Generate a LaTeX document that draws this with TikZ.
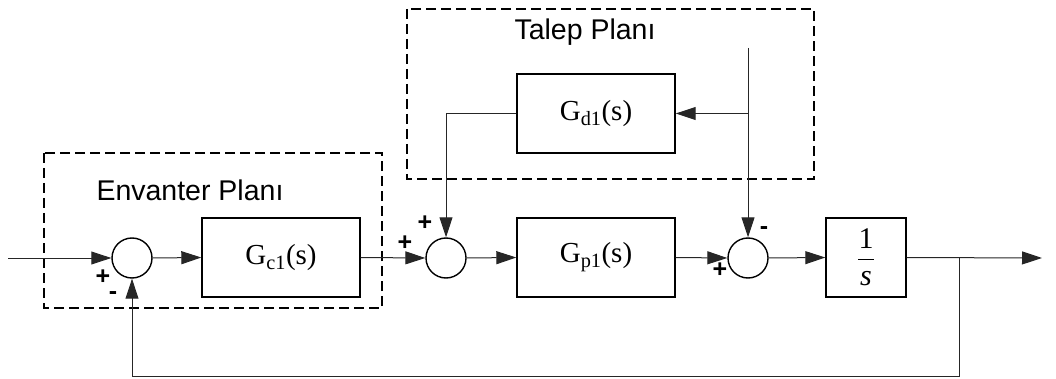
\documentclass[tikz,border=0pt]{standalone}
\usepackage{fontspec}
\setmainfont{Liberation Serif}
\newfontfamily\arial{Liberation Sans}
\usetikzlibrary{arrows.meta}
\begin{document}
\begin{tikzpicture}[x=1pt,y=-1pt,
 blk/.style={draw, line width=1.4pt, minimum width=158pt, minimum height=79pt, inner sep=0pt, font=\fontsize{29}{31}\selectfont},
 sumc/.style={draw, circle, line width=1.4pt, minimum size=40pt, inner sep=0pt},
 sig/.style={line width=1pt, draw=black!85},
 arr/.style={sig, -{Triangle[length=20pt,width=13pt]}},
 grp/.style={draw, line width=1.4pt, dash pattern=on 10pt off 5pt},
 lbl/.style={font=\arial\fontsize{28.5}{30}\selectfont},
 sgn/.style={font=\arial\bfseries\fontsize{25}{25}\selectfont, inner sep=0pt}
]
\useasboundingbox (0,0) rectangle (1056,379);
\draw[grp] (44,153) rectangle (382,308);
\draw[grp] (407,9) rectangle (814,179);
\node[lbl] (el) at (190,190) {Envanter Planı};
\node[lbl] (tl) at (585,32) {Talep Planı};
\node[sumc] (s1) at (132,258) {};
\node[sumc] (s2) at (446,258) {};
\node[sumc] (s3) at (748,258) {};
\node[blk] (gc) at (281,257.5) {G\textsubscript{c1}(s)};
\node[blk] (gp) at (596,257.5) {G\textsubscript{p1}(s)};
\node[blk] (gd) at (596,113.5) {G\textsubscript{d1}(s)};
\node[blk, minimum width=80pt] (int) at (866,257.5) {};
\node[font=\fontsize{30}{32}\selectfont, inner sep=0pt] (one) at (866,239) {1};
\draw[line width=1pt] (858,259) -- (874,259);
\node[font=\fontsize{30}{32}\selectfont\itshape, inner sep=0pt] (ess) at (866,279) {s};
\coordinate (in) at (8,258);
\coordinate (out) at (1042,258);
\coordinate (br) at (959,258);
\coordinate (fb) at (959,376);
\coordinate (dtop) at (748,48);
\coordinate (dbr) at (748,113.5);
\draw[arr] (in) -- (s1.west);
\draw[arr] (s1.east) -- (gc.west);
\draw[arr] (gc.east) -- (s2.west);
\draw[arr] (s2.east) -- (gp.west);
\draw[arr] (gp.east) -- (s3.west);
\draw[arr] (s3.east) -- (int.west);
\draw[arr] (int.east) -- (out);
\draw[arr] (br) -- (fb) -| (s1.south);
\draw[arr] (dtop) -- (s3.north);
\draw[arr] (dbr) -- (gd.east);
\draw[arr] (gd.west) -| (s2.north);
\node[sgn] (p1) at (103,277) {+};
\node[sgn] (m1) at (113,296) {-};
\node[sgn] (p2) at (405,243) {+};
\node[sgn] (p3) at (425,223) {+};
\node[sgn] (m3) at (764,231) {-};
\node[sgn] (p4) at (720,270) {+};
\end{tikzpicture}
\end{document}
